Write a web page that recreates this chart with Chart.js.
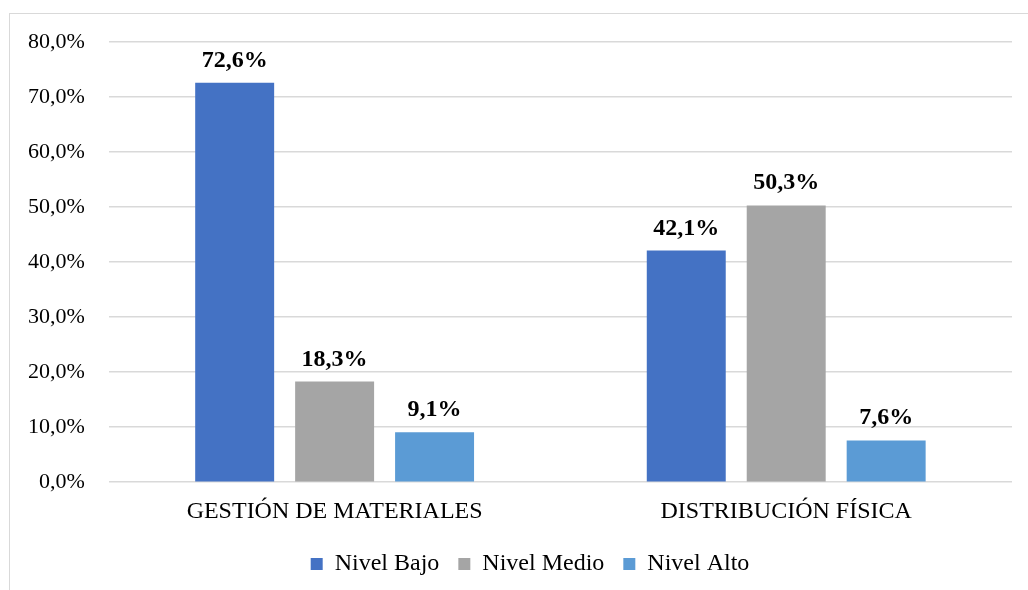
<!DOCTYPE html>
<html>
<head>
<meta charset="utf-8">
<script src="https://cdn.jsdelivr.net/npm/chart.js@4.4.1/dist/chart.umd.min.js"></script>
<style>
  html, body { margin: 0; padding: 0; background: #fff; width: 1028px; height: 590px; overflow: hidden; }
  #frame { position: absolute; left: 9px; top: 13px; width: 1040px; height: 600px; border: 1px solid #d9d9d9; box-sizing: border-box; }
  #c { position: absolute; left: 0; top: 0; }
</style>
</head>
<body>
<div id="frame"></div>
<canvas id="c" width="1028" height="590"></canvas>
<script>
const categories = ['GESTIÓN DE MATERIALES', 'DISTRIBUCIÓN FÍSICA'];
const nivelBajo = [72.6, 42.1];
const nivelMedio = [18.3, 50.3];
const nivelAlto = [9.1, 7.6];
const seriesNames = ['Nivel Bajo', 'Nivel Medio', 'Nivel Alto'];
const seriesColors = ['#4472C4', '#A5A5A5', '#5B9BD5'];

const fmt = v => v.toFixed(1).replace('.', ',') + '%';
const FONT = "'Liberation Serif', 'Times New Roman', serif";

const valueLabels = {
  id: 'valueLabels',
  afterDatasetsDraw(chart) {
    const ctx = chart.ctx;
    ctx.save();
    ctx.font = 'bold 24px ' + FONT;
    ctx.fillStyle = '#000';
    ctx.textAlign = 'center';
    ctx.textBaseline = 'alphabetic';
    chart.data.datasets.forEach((ds, i) => {
      const meta = chart.getDatasetMeta(i);
      meta.data.forEach((bar, j) => {
        ctx.fillText(fmt(ds.data[j]), bar.x, bar.y - 16);
      });
    });
    ctx.restore();
  }
};

// shift legend so that it is centred like the reference
const legendShift = {
  id: 'legendShift',
  afterLayout(chart) {
    if (chart.legend) {
      chart.legend.left += 22;
      chart.legend.right += 22;
    }
  }
};

new Chart(document.getElementById('c'), {
  type: 'bar',
  data: {
    labels: categories,
    datasets: [
      { label: seriesNames[0], data: nivelBajo, backgroundColor: seriesColors[0] },
      { label: seriesNames[1], data: nivelMedio, backgroundColor: seriesColors[1] },
      { label: seriesNames[2], data: nivelAlto, backgroundColor: seriesColors[2] }
    ]
  },
  options: {
    responsive: false,
    animation: false,
    devicePixelRatio: 1,
    datasets: { bar: { categoryPercentage: 0.664, barPercentage: 0.79 } },
    layout: { padding: { left: 4, right: 16, top: 42, bottom: 4 } },
    plugins: {
      legend: {
        position: 'bottom',
        labels: {
          font: { family: FONT, size: 24 },
          color: '#000',
          boxWidth: 12,
          boxHeight: 12,
          padding: 19
        }
      },
      tooltip: { enabled: false }
    },
    scales: {
      x: {
        grid: { display: false },
        border: { display: false },
        ticks: { font: { family: FONT, size: 24 }, color: '#000', padding: 7, maxRotation: 0 }
      },
      y: {
        min: 0, max: 80,
        grid: { color: '#d9d9d9', lineWidth: 1.5, drawTicks: false },
        border: { display: false },
        ticks: { stepSize: 10, font: { family: FONT, size: 22 }, color: '#000', padding: 24, callback: v => fmt(v) }
      }
    }
  },
  plugins: [valueLabels, legendShift]
});
</script>
</body>
</html>
